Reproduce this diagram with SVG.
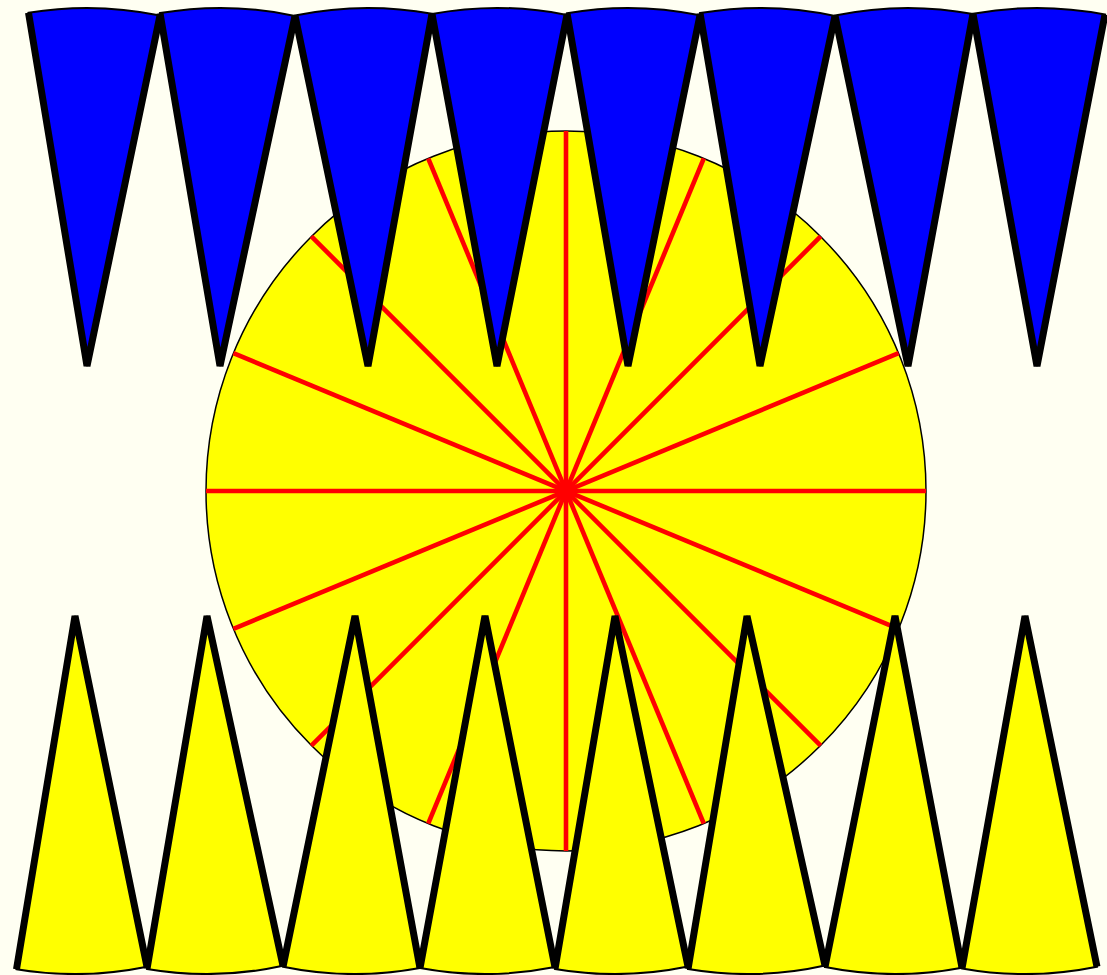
<svg xmlns="http://www.w3.org/2000/svg" width="1107" height="975" viewBox="0 0 1107 975">
<style>
.bg{fill:#FFFFF2}
.disc{fill:#FFFF00;stroke:#000;stroke-width:1.5}
.spoke{stroke:#FF0000;stroke-width:4.6;fill:none}
.blue{fill:#0000FF;stroke:#000;stroke-width:2}
.yel{fill:#FFFF00;stroke:#000;stroke-width:2}
.side{fill:none;stroke:#000;stroke-width:7;stroke-linejoin:bevel;stroke-linecap:butt}
</style>
<rect class="bg" x="0" y="0" width="1107" height="975"/>
<g id="disc">
<circle class="disc" cx="566" cy="491" r="360"/>
<line class="spoke" x1="206" y1="491" x2="926" y2="491"/>
<line class="spoke" x1="233.4" y1="353.2" x2="898.6" y2="628.8"/>
<line class="spoke" x1="311.4" y1="236.4" x2="820.6" y2="745.6"/>
<line class="spoke" x1="428.2" y1="158.4" x2="703.8" y2="823.6"/>
<line class="spoke" x1="566" y1="131" x2="566" y2="851"/>
<line class="spoke" x1="703.8" y1="158.4" x2="428.2" y2="823.6"/>
<line class="spoke" x1="820.6" y1="236.4" x2="311.4" y2="745.6"/>
<line class="spoke" x1="898.6" y1="353.2" x2="233.4" y2="628.8"/>
</g>
<g id="blue-wedges">
<g id="b1"><path class="blue" d="M28.5,12.8 A358,358 0 0 1 160,15.5 L87,366 Z"/><polyline class="side" points="28.5,12.8 87,366 160,15.5"/></g>
<g id="b2"><path class="blue" d="M160,13.1 A358,358 0 0 1 295,15.9 L220,366 Z"/><polyline class="side" points="160,13.1 220,366 295,15.9"/></g>
<g id="b3"><path class="blue" d="M295,15.5 A358,358 0 0 1 432,13.8 L368,366 Z"/><polyline class="side" points="295,15.5 368,366 432,13.8"/></g>
<g id="b4"><path class="blue" d="M432,13.95 A358,358 0 0 1 567,14.9 L497,366 Z"/><polyline class="side" points="432,13.95 497,366 567,14.9"/></g>
<g id="b5"><path class="blue" d="M567,13.2 A358,358 0 0 1 700,15.3 L628,366 Z"/><polyline class="side" points="567,13.2 628,366 700,15.3"/></g>
<g id="b6"><path class="blue" d="M700,13.1 A358,358 0 0 1 835,15.9 L760,366 Z"/><polyline class="side" points="700,13.1 760,366 835,15.9"/></g>
<g id="b7"><path class="blue" d="M835,15.5 A358,358 0 0 1 973,13.95 L908,366 Z"/><polyline class="side" points="835,15.5 908,366 973,13.95"/></g>
<g id="b8"><path class="blue" d="M973,13.8 A358,358 0 0 1 1105,14.5 L1037,366 Z"/><polyline class="side" points="973,13.8 1037,366 1105,14.5"/></g>
</g>
<g id="yellow-wedges">
<g id="y1"><path class="yel" d="M16.5,969.2 A358,358 0 0 0 147,966.7 L75,616 Z"/><polyline class="side" points="16.5,969.2 75,616 147,966.7"/></g>
<g id="y2"><path class="yel" d="M147,968.9 A358,358 0 0 0 283,965.8 L207,616 Z"/><polyline class="side" points="147,968.9 207,616 283,965.8"/></g>
<g id="y3"><path class="yel" d="M283,966.7 A358,358 0 0 0 420,968.05 L355,616 Z"/><polyline class="side" points="283,966.7 355,616 420,968.05"/></g>
<g id="y4"><path class="yel" d="M420,968.05 A358,358 0 0 0 555,967.1 L485,616 Z"/><polyline class="side" points="420,968.05 485,616 555,967.1"/></g>
<g id="y5"><path class="yel" d="M555,968.9 A358,358 0 0 0 688,966.5 L615,616 Z"/><polyline class="side" points="555,968.9 615,616 688,966.5"/></g>
<g id="y6"><path class="yel" d="M688,969.1 A358,358 0 0 0 825,965.4 L747,616 Z"/><polyline class="side" points="688,969.1 747,616 825,965.4"/></g>
<g id="y7"><path class="yel" d="M825,967.1 A358,358 0 0 0 962,967.7 L895,616 Z"/><polyline class="side" points="825,967.1 895,616 962,967.7"/></g>
<g id="y8"><path class="yel" d="M962,968.4 A358,358 0 0 0 1097,966.7 L1025,616 Z"/><polyline class="side" points="962,968.4 1025,616 1097,966.7"/></g>
</g>
</svg>
